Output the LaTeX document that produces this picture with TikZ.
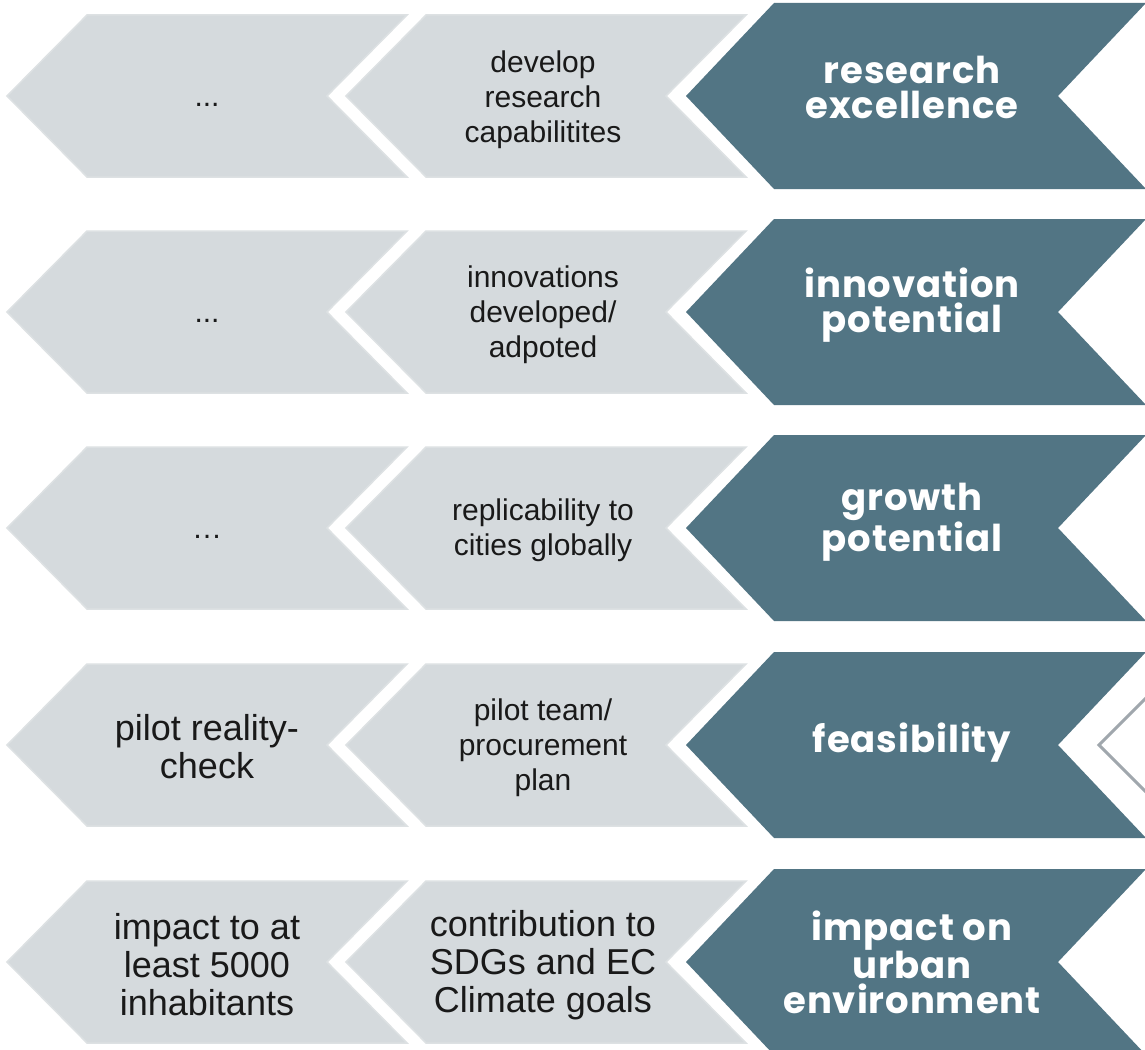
\documentclass[tikz,border=0pt]{standalone}
\usepackage{fontspec}
\setmainfont{Liberation Sans}
\newfontfamily\headfont{Poppins}[LetterSpace=2.5]
\definecolor{chevgrey}{HTML}{D5DADD}
\definecolor{chevedge}{HTML}{DDE1E3}
\definecolor{chevdark}{HTML}{527584}
\definecolor{chevline}{HTML}{A0A7AD}
\tikzset{
	lightchev/.pic={\filldraw[fill=chevgrey,draw=chevedge,line width=1.5pt,line join=miter]
		(0,0) -- (80,-81) -- (400,-81) -- (320,0) -- (400,81) -- (80,81) -- cycle;},
	darkchev/.pic={\fill[chevdark]
		(0,0) -- (88,-93) -- (460,-93) -- (372,0) -- (460,93) -- (88,93) -- cycle;},
	steptxt/.style={align=center,text=black!90,font=\fontsize{30}{35}\selectfont},
	bigtxt/.style={align=center,text=black!90,font=\fontsize{36}{38}\selectfont},
	headtxt/.style={align=center,text=white,font=\headfont\bfseries\fontsize{37}{35}\selectfont},
}

\begin{document}
\begin{tikzpicture}[x=1pt,y=-1pt]
	\clip (0,0) rectangle (1145,1049);
	\fill[white] (0,0) rectangle (1145,1049);

	% research excellence
	\pic at (7,96) {lightchev};
	\pic at (346,96) {lightchev};
	\pic at (686,96) {darkchev};
	\node[steptxt] (re1) at (207,105) {...};
	\node[steptxt] (re2) at (543,100) {develop\\research\\capabilitites};
	\node[headtxt] (re) at (912,87) {research\\excellence};

	% innovation potential
	\pic at (7,312) {lightchev};
	\pic at (346,312) {lightchev};
	\pic at (686,312) {darkchev};
	\node[steptxt] (in1) at (207,321) {...};
	\node[steptxt] (in2) at (543,315) {innovations\\developed/\\adpoted};
	\node[headtxt] (in) at (912,305) {innovation\\potential};

	% growth potential
	\pic at (7,528) {lightchev};
	\pic at (346,528) {lightchev};
	\pic at (686,528) {darkchev};
	\node[steptxt] (gr1) at (207,537) {…};
	\node[steptxt] (gr2) at (543,530) {replicability to\\cities globally};
	\node[headtxt] (gr) at (912,522) {growth\\potential};

	% feasibility
	\pic at (7,745) {lightchev};
	\pic at (346,745) {lightchev};
	\pic at (686,745) {darkchev};
	\node[bigtxt] (fe1) at (207,747) {pilot reality-\\check};
	\node[steptxt] (fe2) at (543,748) {pilot team/\\procurement\\plan};
	\node[headtxt] (fe) at (912,743) {feasibility};
	\draw[chevline,line width=3pt] (1199,645) -- (1099,745) -- (1199,845);

	% impact on urban environment
	\pic at (7,962) {lightchev};
	\pic at (346,962) {lightchev};
	\pic at (686,962) {darkchev};
	\node[bigtxt] (im1) at (207,965) {impact to at\\least 5000\\inhabitants};
	\node[bigtxt] (im2) at (543,965) {contribution to\\SDGs and EC\\Climate goals};
	\node[headtxt] (im) at (912,962) {impact on\\urban\\environment};
\end{tikzpicture}
\end{document}
